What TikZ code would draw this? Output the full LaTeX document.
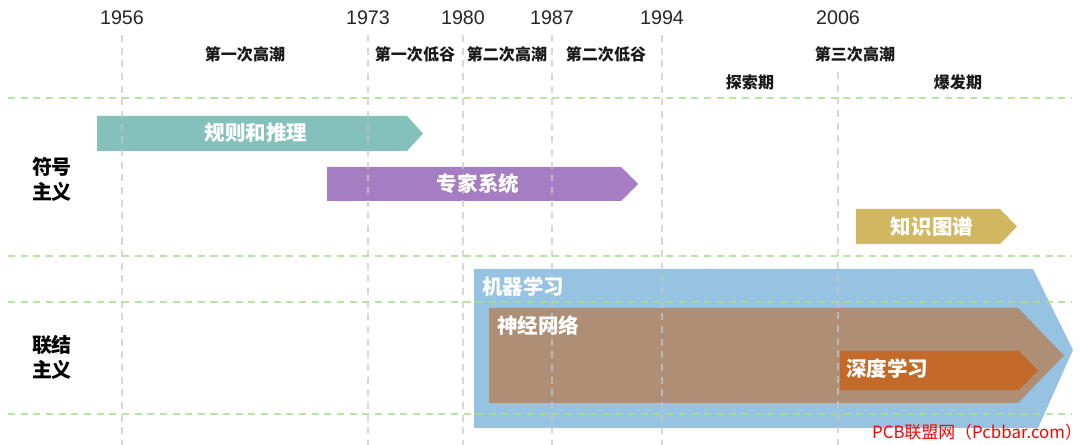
\documentclass[tikz,border=0pt]{standalone}
\usepackage{fontspec}
\setmainfont{Liberation Sans}
\newfontfamily\cjk{Noto Sans CJK SC}
\usepackage{tikz}
\usetikzlibrary{positioning,calc}
\definecolor{RuleTeal}{HTML}{84C1BA}
\definecolor{ExpertPurple}{HTML}{A57DC2}
\definecolor{GraphGold}{HTML}{D1B760}
\definecolor{MLBlue}{HTML}{97C3E3}
\definecolor{NNBrown}{HTML}{AE8E75}
\definecolor{DLOrange}{HTML}{C26A29}
\definecolor{GridGreen}{HTML}{A9DD8F}
\definecolor{GridGray}{HTML}{C8C8C8}

\begin{document}
\begin{tikzpicture}[x=0.025cm, y=-0.025cm]
  \tikzstyle{year} = [font=\fontsize{14}{16}\selectfont, text=black!85, inner sep=0pt]
  \tikzstyle{phase} = [font=\cjk\bfseries\fontsize{11.4}{13}\selectfont, text=black!90, inner sep=0pt]
  \tikzstyle{school} = [font=\cjk\bfseries\fontsize{14.2}{17.8}\selectfont, align=center, inner sep=0pt]
  \tikzstyle{barlabel} = [font=\cjk\bfseries\fontsize{14.6}{16}\selectfont, text=white, inner sep=0pt]
  \tikzstyle{vgrid} = [draw=GridGray, draw opacity=0.7, line width=0.8pt, dash pattern=on 5pt off 4pt]
  \tikzstyle{hgrid} = [draw=GridGreen, draw opacity=0.8, line width=0.8pt, dash pattern=on 5pt off 4pt]

  \useasboundingbox (0,0) rectangle (1080,445);

  % symbolism bars
  \fill [RuleTeal] (97,116) -- (407,116) -- (423,133.5) -- (407,151) -- (97,151) -- cycle;
  \fill [ExpertPurple] (327,167) -- (621,167) -- (638,184) -- (621,201) -- (327,201) -- cycle;
  \fill [GraphGold] (856,209) -- (1000,209) -- (1017,226.5) -- (1000,244) -- (856,244) -- cycle;

  % connectionism bars
  \fill [MLBlue] (474,269) -- (1033,269) -- (1073,350) -- (1038,428) -- (474,428) -- cycle;
  \fill [NNBrown] (489,308) -- (1018,308) -- (1064,355.5) -- (1018,403) -- (489,403) -- cycle;
  \fill [DLOrange] (840,351) -- (1019,351) -- (1038,370.5) -- (1019,390) -- (840,390) -- cycle;

  % years and vertical guides
  \foreach \yr/\xx/\top in {1956/122/35, 1973/368/35, 1980/463/35, 1987/552/35, 1994/662/35, 2006/838/72} {
    \node [year] (y\yr) at (\xx,18) {\yr};
    \draw [vgrid] (\xx,\top) -- (\xx,445);
  }

  % rows
  \foreach \yy in {98, 256, 302, 414}
    \draw [hgrid] (8,\yy) -- (1072,\yy);

  % phases
  \node [phase] (ph1) at (245,54) {第一次高潮};
  \node [phase] (ph2) at (415,54) {第一次低谷};
  \node [phase] (ph3) at (507,54) {第二次高潮};
  \node [phase] (ph4) at (606,54) {第二次低谷};
  \node [phase] (ph5) at (855,54) {第三次高潮};
  \node [phase] (ph5a) at (750,82) {探索期};
  \node [phase] (ph5b) at (958,82) {爆发期};

  \node [school] (sym) at (52,179) {符号\\主义};
  \node [school] (con) at (52,357) {联结\\主义};

  % bar labels
  \node [barlabel] (rules) at (256,133) {规则和推理};
  \node [barlabel] (expert) at (478,184) {专家系统};
  \node [barlabel] (kg) at (932,226.5) {知识图谱};
  \node [barlabel, anchor=west] (ml) at (482,287) {机器学习};
  \node [barlabel, anchor=west] (nn) at (497,326) {神经网络};
  \node [barlabel, anchor=west] (dl) at (846,369) {深度学习};

  \node [font=\cjk\fontsize{12}{14}\selectfont, text=red, inner sep=0pt] (mark) at (977,432) {PCB联盟网（Pcbbar.com）};
\end{tikzpicture}
\end{document}
